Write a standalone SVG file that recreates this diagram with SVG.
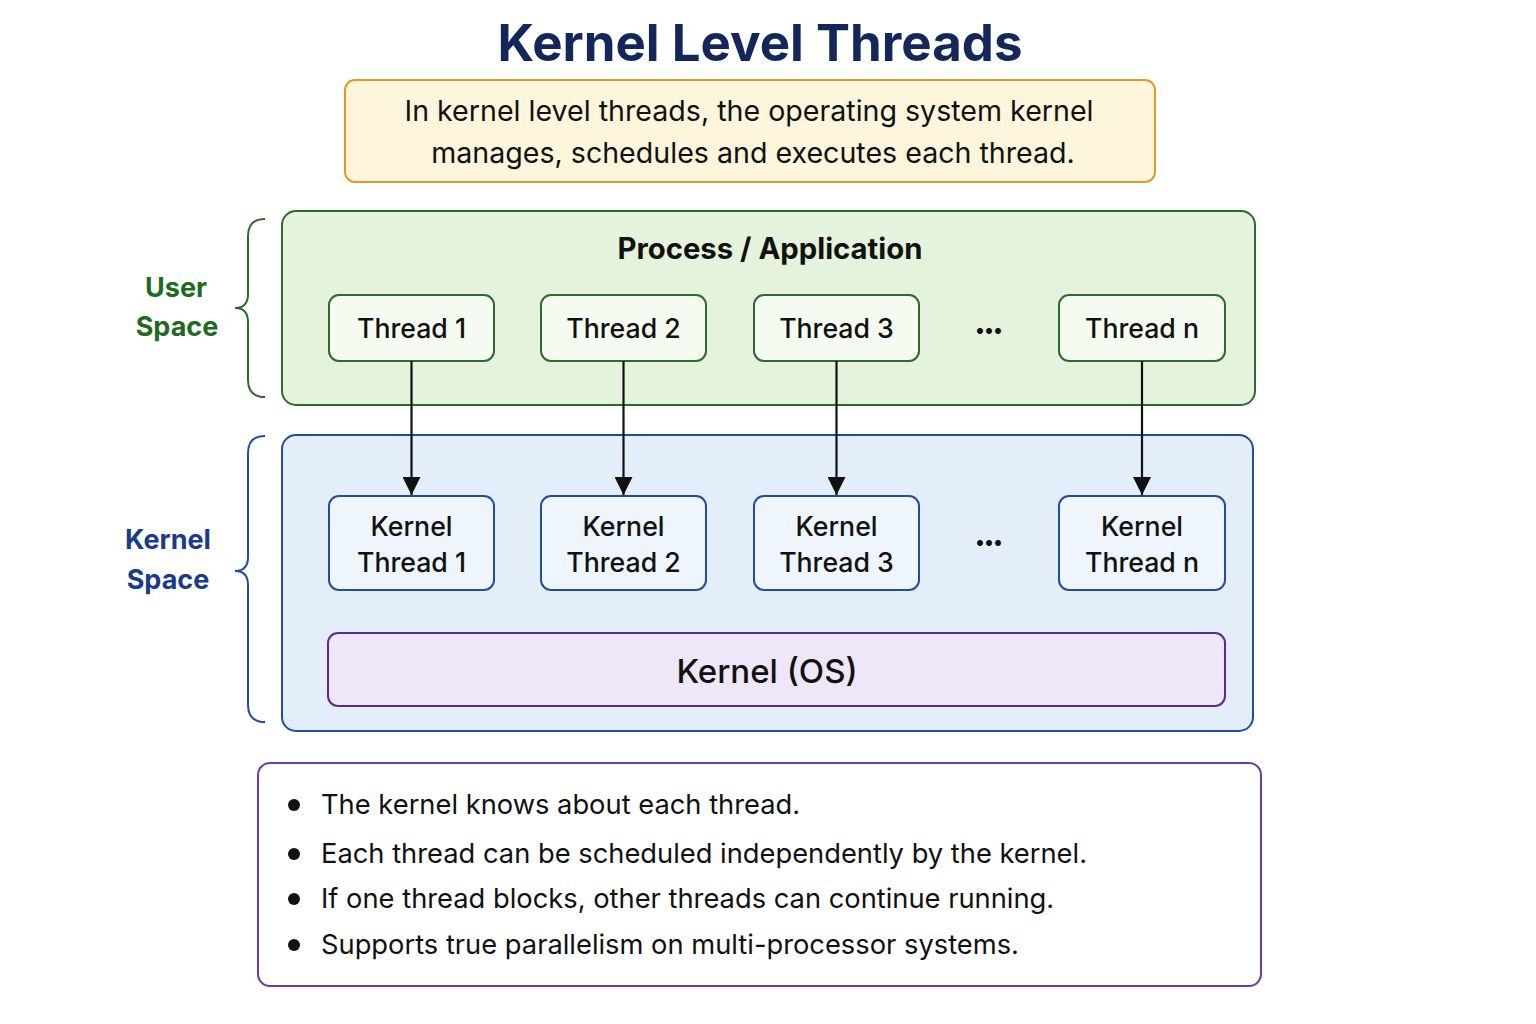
<svg xmlns="http://www.w3.org/2000/svg" width="1536" height="1024" viewBox="0 0 1536 1024">
<defs>
<marker id="ah" viewBox="0 0 10 10" refX="10" refY="5" markerWidth="18" markerHeight="18" markerUnits="userSpaceOnUse" orient="auto"><path d="M0,0 L10,5 L0,10 z" fill="#111"/></marker>
</defs>
<style>
text{font-family:Inter,"Noto Sans","Liberation Sans",sans-serif;fill:#111}
.t{font-size:26.7px;text-anchor:middle;font-weight:500}
.ut{fill:#f6fbf2;stroke:#2d6a2d;stroke-width:2}
.kt{fill:#eef5fd;stroke:#1f4f9a;stroke-width:2}
.b{font-size:27.3px}
.d{font-size:19px;text-anchor:middle;font-weight:700}
.conn{stroke:#111;stroke-width:2.2;fill:none}
</style>
<rect width="1536" height="1024" fill="#ffffff"/>
<text id="title" x="760" y="61" style="font-size:51px;font-weight:700;fill:#13275a;text-anchor:middle">Kernel Level Threads</text>
<g id="desc">
<rect x="345" y="80" width="810" height="102" rx="10" fill="#fdf6dc" stroke="#e09a2a" stroke-width="2"/>
<text x="749" y="121" style="font-size:28.6px;text-anchor:middle">In kernel level threads, the operating system kernel</text>
<text x="753" y="163" style="font-size:28.6px;text-anchor:middle">manages, schedules and executes each thread.</text>
</g>
<g id="userspace-label">
<path d="M265,219 Q248,219 248,236 L248,294 Q248,308 235,308 Q248,308 248,322 L248,380 Q248,397 265,397" fill="none" stroke="#2d6a2d" stroke-width="2"/>
<text x="176" y="297" style="font-size:27px;font-weight:700;fill:#1e6a1e;text-anchor:middle">User</text>
<text x="177" y="336" style="font-size:27px;font-weight:700;fill:#1e6a1e;text-anchor:middle">Space</text>
</g>
<g id="kernelspace-label">
<path d="M265,436 Q248,436 248,453 L248,557 Q248,571 235,571 Q248,571 248,585 L248,705 Q248,722 265,722" fill="none" stroke="#1f4f9a" stroke-width="2"/>
<text x="168" y="549" style="font-size:27px;font-weight:700;fill:#1a3a8a;text-anchor:middle">Kernel</text>
<text x="168" y="589" style="font-size:27px;font-weight:700;fill:#1a3a8a;text-anchor:middle">Space</text>
</g>
<g id="process">
<rect x="282" y="211" width="973" height="194" rx="14" fill="#e6f3dc" stroke="#2d6a2d" stroke-width="2"/>
<text x="770" y="259" style="font-size:29.3px;font-weight:700;text-anchor:middle">Process / Application</text>
</g>
<g id="kernelspace">
<rect x="282" y="435" width="971" height="296" rx="14" fill="#e3eefa" stroke="#1f4f9a" stroke-width="2"/>
</g>
<g id="thread1"><rect class="ut" x="329" y="295" width="165" height="66" rx="10"/><text class="t" x="411.5" y="338">Thread 1</text></g>
<g id="thread2"><rect class="ut" x="541" y="295" width="165" height="66" rx="10"/><text class="t" x="623.5" y="338">Thread 2</text></g>
<g id="thread3"><rect class="ut" x="754" y="295" width="165" height="66" rx="10"/><text class="t" x="836.5" y="338">Thread 3</text></g>
<g id="dots1"><text class="d" x="989" y="337">•••</text></g>
<g id="threadn"><rect class="ut" x="1059" y="295" width="166" height="66" rx="10"/><text class="t" x="1142" y="338">Thread n</text></g>
<g id="kthread1"><rect class="kt" x="329" y="496" width="165" height="94" rx="10"/><text class="t" x="411.5" y="536">Kernel</text><text class="t" x="411.5" y="572">Thread 1</text></g>
<g id="kthread2"><rect class="kt" x="541" y="496" width="165" height="94" rx="10"/><text class="t" x="623.5" y="536">Kernel</text><text class="t" x="623.5" y="572">Thread 2</text></g>
<g id="kthread3"><rect class="kt" x="754" y="496" width="165" height="94" rx="10"/><text class="t" x="836.5" y="536">Kernel</text><text class="t" x="836.5" y="572">Thread 3</text></g>
<g id="dots2"><text class="d" x="989" y="549">•••</text></g>
<g id="kthreadn"><rect class="kt" x="1059" y="496" width="166" height="94" rx="10"/><text class="t" x="1142" y="536">Kernel</text><text class="t" x="1142" y="572">Thread n</text></g>
<g id="kernelos"><rect x="328" y="633" width="897" height="73" rx="10" fill="#efe7f9" stroke="#5a2a9a" stroke-width="2"/><text x="767" y="683" style="font-size:33px;font-weight:500;text-anchor:middle">Kernel (OS)</text></g>
<g id="connectors">
<line class="conn" x1="411.5" y1="361" x2="411.5" y2="495" marker-end="url(#ah)"/>
<line class="conn" x1="623.5" y1="361" x2="623.5" y2="495" marker-end="url(#ah)"/>
<line class="conn" x1="836.5" y1="361" x2="836.5" y2="495" marker-end="url(#ah)"/>
<line class="conn" x1="1142" y1="361" x2="1142" y2="495" marker-end="url(#ah)"/>
</g>
<g id="notes">
<rect x="258" y="763" width="1003" height="223" rx="12" fill="#ffffff" stroke="#6a3aaa" stroke-width="2"/>
<circle cx="294" cy="805" r="6" fill="#111"/><text class="b" x="321" y="814">The kernel knows about each thread.</text>
<circle cx="294" cy="854" r="6" fill="#111"/><text class="b" x="321" y="863">Each thread can be scheduled independently by the kernel.</text>
<circle cx="294" cy="899" r="6" fill="#111"/><text class="b" x="321" y="908">If one thread blocks, other threads can continue running.</text>
<circle cx="294" cy="945" r="6" fill="#111"/><text class="b" x="321" y="954">Supports true parallelism on multi-processor systems.</text>
</g>
</svg>
